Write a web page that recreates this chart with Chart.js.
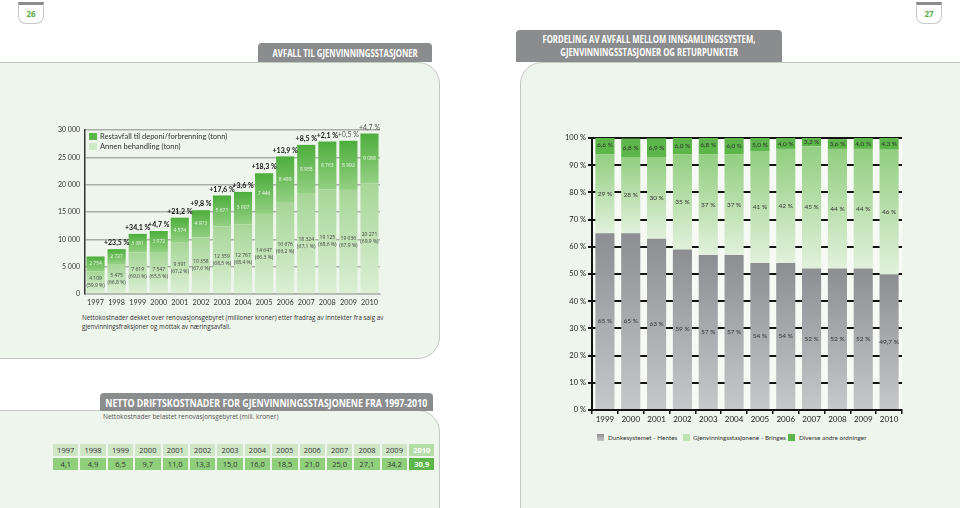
<!DOCTYPE html>
<html>
<head>
<meta charset="utf-8">
<script src="https://cdn.jsdelivr.net/npm/chart.js@4.4.1/dist/chart.umd.min.js"></script>
<style>
  body { margin: 0; width: 960px; height: 508px; background: #fff; overflow: hidden; position: relative; font-family: "Open Sans", sans-serif; }
  .abs { position: absolute; }
  .panel { position: absolute; background: #eef5ec; border: 1px solid #c4c8c2; box-sizing: border-box; }
  .tab { position: absolute; background: #8b8c8e; color: #fff; font-family: "Open Sans", sans-serif; font-weight: bold; border-radius: 4px 4px 0 0; white-space: nowrap; display: flex; flex-direction: column; align-items: center; justify-content: center; }
  .tab span { display: block; transform: scaleX(0.74); transform-origin: center; }
  .pg { position: absolute; width: 24px; height: 18px; background: #fff; border: 1px solid #c8c8c8; border-top: 3px solid #8b8c8e; border-radius: 0 0 8px 8px; color: #5aae45; font: bold 8px "Open Sans"; text-align: center; line-height: 18px; }
  .leg { position: absolute; font-family: Lato, sans-serif; font-size: 6.4px; color: #333; white-space: nowrap; line-height: 8px; }
  .leg i { position: absolute; top: 0; width: 7px; height: 7px; }
  table { position: absolute; left: 51px; top: 442px; border-collapse: separate; border-spacing: 2px; font-size: 7.5px; }
  td { width: 25.4px; height: 12px; padding: 0; text-align: center; color: #333; }
  tr.y td { background: #cfe6c6; }
  tr.v td { background: #8fcf7c; }
  tr.y td.hl { background: #b4dda8; color: #fff; font-weight: bold; }
  tr.v td.hl { background: #5cb649; color: #fff; font-weight: bold; }
</style>
</head>
<body>
<div class="pg" style="left:18px;top:2px;">26</div>
<div class="pg" style="left:916px;top:2px;">27</div>

<div class="panel" style="left:-2px;top:62px;width:442px;height:297px;border-radius:0 22px 22px 0;"></div>
<div class="tab" style="left:258px;top:43px;width:174px;height:19px;font-size:10.5px;"><span>AVFALL TIL GJENVINNINGSSTASJONER</span></div>

<div class="panel" style="left:-2px;top:410px;width:442px;height:110px;border-radius:0 22px 0 0;"></div>
<div class="tab" style="left:100px;top:393px;width:333px;height:18px;font-size:11px;"><span style="transform:scaleX(0.8)">NETTO DRIFTSKOSTNADER FOR GJENVINNINGSSTASJONENE FRA 1997-2010</span></div>
<div class="abs" style="left:103px;top:412px;font-size:6.5px;color:#555;">Nettokostnader belastet renovasjonsgebyret (mill. kroner)</div>
<table id="costTable"></table>

<div class="panel" style="left:520px;top:62px;width:442px;height:460px;border-radius:22px 0 0 0;"></div>
<div class="tab" style="left:516px;top:30px;width:266px;height:32px;font-size:10.5px;line-height:13px;"><span>FORDELING AV AVFALL MELLOM INNSAMLINGSSYSTEM,</span><span>GJENVINNINGSSTASJONER OG RETURPUNKTER</span></div>

<div class="abs" style="left:0;top:110px;width:440px;height:200px;"><canvas id="leftChart"></canvas></div>
<div class="leg" style="left:89px;top:133px;font-size:7.5px;padding-left:11px;"><i style="left:0;width:8px;background:#5cb649"></i>Restavfall til deponi/forbrenning (tonn)</div>
<div class="leg" style="left:89px;top:143px;font-size:7.5px;padding-left:11px;"><i style="left:0;width:8px;background:#cfe8c5"></i>Annen behandling (tonn)</div>
<div class="abs" style="left:82px;top:313px;font-size:6.3px;line-height:9px;color:#333;">Nettokostnader dekket over renovasjonsgebyret (millioner kroner) etter fradrag av inntekter fra salg av<br>gjenvinningsfraksjoner og mottak av næringsavfall.</div>

<div class="abs" style="left:540px;top:120px;width:420px;height:310px;"><canvas id="rightChart"></canvas></div>
<div class="leg" style="left:597px;top:434px;padding-left:11px;"><i style="left:0;background:linear-gradient(#8e8f92,#c5c6c8)"></i>Dunkesystemet - Hentes</div>
<div class="leg" style="left:683px;top:434px;padding-left:10px;"><i style="left:0;background:#bfe3b2"></i>Gjenvinningsstasjonene - Bringes</div>
<div class="leg" style="left:788px;top:434px;padding-left:11px;"><i style="left:0;background:#5cb649"></i>Diverse andre ordninger</div>

<script>
// Avfall til gjenvinningsstasjoner (tonn)
const leftYears = ['1997','1998','1999','2000','2001','2002','2003','2004','2005','2006','2007','2008','2009','2010'];
const annenBehandling = [4109, 5475, 7619, 7547, 9391, 10358, 12359, 12767, 14647, 16676, 18324, 19125, 19036, 20271];
const annenPct = ['59,9', '66,8', '69,0', '65,5', '67,2', '67,6', '68,5', '68,4', '66,3', '66,2', '67,1', '68,6', '67,9', '69,9'];
const restavfall = [2754, 2727, 3381, 3972, 4574, 4973, 5671, 5907, 7446, 8499, 8955, 8763, 8992, 9088];
const growth = ['', '+23,5 %', '+34,1 %', '+4,7 %', '+21,2 %', '+9,8 %', '+17,6 %', '+3,6 %', '+18,3 %', '+13,9 %', '+8,5 %', '+2,1 %', '+0,5 %', '+4,7 %'];

// Netto driftskostnader (mill. kroner)
const costYears = leftYears;
const costs = ['4,1', '4,9', '6,5', '9,7', '11,0', '13,3', '15,0', '16,0', '18,5', '21,0', '25,0', '27,1', '34,2', '30,9'];

// Fordeling mellom innsamlingssystem (%)
const rightYears = ['1999','2000','2001','2002','2003','2004','2005','2006','2007','2008','2009','2010'];
const dunk = [65, 65, 63, 59, 57, 57, 54, 54, 52, 52, 52, 49.7];
const stasjon = [29, 28, 30, 35, 37, 37, 41, 42, 45, 44, 44, 46];
const diverse = [6.6, 6.8, 6.9, 6.0, 6.8, 6.0, 5.0, 4.0, 3.2, 3.6, 4.0, 4.3];

// table
const tbl = document.getElementById('costTable');
tbl.innerHTML =
  '<tr class="y">' + costYears.map((y, i) => `<td${i === costYears.length - 1 ? ' class="hl"' : ''}>${y}</td>`).join('') + '</tr>' +
  '<tr class="v">' + costs.map((v, i) => `<td${i === costs.length - 1 ? ' class="hl"' : ''}>${v}</td>`).join('') + '</tr>';

const fmt = n => String(n).replace(/\B(?=(\d{3})+(?!\d))/g, ' ');
const pct = (v, dec) => (dec ? v.toFixed(1) : String(v)).replace('.', ',') + ' %';

// gradient for each stacked segment, darker at the top
function segGrad(topColor, botColor) {
  return (c) => {
    const ch = c.chart;
    const ys = ch.scales.y;
    if (!ys || c.type !== 'data') return botColor;
    const i = c.dataIndex, d = c.datasetIndex;
    let base = 0;
    for (let k = 0; k < d; k++) base += ch.data.datasets[k].data[i];
    const top = Math.min(base + ch.data.datasets[d].data[i], ys.max);
    const y1 = ys.getPixelForValue(top), y0 = ys.getPixelForValue(base);
    if (!isFinite(y1) || !isFinite(y0) || y0 === y1) return botColor;
    const g = ch.ctx.createLinearGradient(0, y1, 0, y0);
    g.addColorStop(0, topColor);
    g.addColorStop(1, botColor);
    return g;
  };
}

const leftLabels = {
  id: 'leftLabels',
  afterDatasetsDraw(chart) {
    const ctx = chart.ctx;
    const low = chart.getDatasetMeta(0).data;
    const high = chart.getDatasetMeta(1).data;
    ctx.save();
    ctx.textAlign = 'center';
    ctx.textBaseline = 'middle';
    low.forEach((bar, i) => {
      const mid = (bar.y + bar.base) / 2;
      ctx.fillStyle = '#444';
      ctx.font = '5px "Open Sans"';
      ctx.fillText(fmt(annenBehandling[i]), bar.x, mid - 3.5);
      ctx.fillText('(' + annenPct[i] + ' %)', bar.x, mid + 3.5);
    });
    high.forEach((bar, i) => {
      const mid = (bar.y + bar.base) / 2;
      ctx.fillStyle = '#eef7ea';
      ctx.font = '5px "Open Sans"';
      ctx.fillText(fmt(restavfall[i]), bar.x, mid);
      if (growth[i]) {
        const light = i >= 12;
        ctx.fillStyle = light ? '#555' : '#111';
        ctx.font = (light ? '' : 'bold ') + '7px Lato';
        ctx.fillText(growth[i], bar.x, bar.y - 6);
      }
    });
    ctx.restore();
  }
};

new Chart(document.getElementById('leftChart'), {
  type: 'bar',
  data: {
    labels: leftYears,
    datasets: [
      { label: 'Annen behandling (tonn)', data: annenBehandling, backgroundColor: segGrad('#a6d697', '#dcefd5') },
      { label: 'Restavfall til deponi/forbrenning (tonn)', data: restavfall, backgroundColor: segGrad('#4dae3c', '#94d083') }
    ]
  },
  options: {
    responsive: true,
    maintainAspectRatio: false,
    animation: false,
    layout: { padding: { top: 20, right: 60, left: 0, bottom: 0 } },
    datasets: { bar: { categoryPercentage: 1, barPercentage: 0.86 } },
    plugins: { legend: { display: false }, tooltip: { enabled: false } },
    scales: {
      x: {
        stacked: true,
        grid: { display: false, drawTicks: false },
        border: { color: '#b8bdb6', width: 1 },
        ticks: { color: '#333', font: { size: 7.3, family: 'Lato' }, padding: 4, maxRotation: 0, minRotation: 0, autoSkip: false },
        afterFit: s => { s.height = 16; }
      },
      y: {
        stacked: true,
        min: 0, max: 30000,
        ticks: { stepSize: 5000, color: '#333', font: { size: 7, family: 'Lato' }, padding: 5, callback: v => fmt(v) },
        grid: { color: '#a9ada7', lineWidth: 1.5, drawTicks: false },
        border: { color: '#333', width: 1.5 },
        afterFit: s => { s.width = 85; }
      }
    }
  },
  plugins: [leftLabels]
});

const rightLabels = {
  id: 'rightLabels',
  afterDatasetsDraw(chart) {
    const ctx = chart.ctx;
    const sets = [dunk, stasjon, diverse];
    ctx.save();
    ctx.textAlign = 'center';
    ctx.textBaseline = 'middle';
    ctx.font = '6.5px Lato';
    sets.forEach((vals, d) => {
      chart.getDatasetMeta(d).data.forEach((bar, i) => {
        ctx.fillStyle = '#333';
        ctx.fillText(pct(vals[i], d === 2), bar.x, (bar.y + bar.base) / 2);
      });
    });
    ctx.restore();
  }
};

const plotBg = {
  id: 'plotBg',
  beforeDraw(chart) {
    const a = chart.chartArea;
    chart.ctx.save();
    chart.ctx.fillStyle = '#f6f9f4';
    chart.ctx.fillRect(a.left, a.top, a.right - a.left, a.bottom - a.top);
    chart.ctx.restore();
  }
};

new Chart(document.getElementById('rightChart'), {
  type: 'bar',
  data: {
    labels: rightYears,
    datasets: [
      { label: 'Dunkesystemet - Hentes', data: dunk, backgroundColor: segGrad('#8d8e91', '#c7c8ca') },
      { label: 'Gjenvinningsstasjonene - Bringes', data: stasjon, backgroundColor: segGrad('#92ce80', '#e2f1dc') },
      { label: 'Diverse andre ordninger', data: diverse, backgroundColor: '#5cb649' }
    ]
  },
  options: {
    responsive: true,
    maintainAspectRatio: false,
    animation: false,
    layout: { padding: { top: 18, right: 58, left: 0, bottom: 0 } },
    datasets: { bar: { categoryPercentage: 1, barPercentage: 0.74 } },
    plugins: { legend: { display: false }, tooltip: { enabled: false } },
    scales: {
      x: {
        stacked: true,
        grid: { offset: true, drawOnChartArea: false, color: '#111', lineWidth: 1.5, tickLength: 4 },
        border: { color: '#111', width: 2 },
        ticks: { color: '#222', font: { size: 8, family: 'Lato' }, padding: 1, maxRotation: 0, autoSkip: false },
        afterFit: s => { s.height = 20; }
      },
      y: {
        stacked: true,
        min: 0, max: 100,
        ticks: { stepSize: 10, color: '#222', font: { size: 7.5, family: 'Lato' }, padding: 2, callback: v => v + ' %' },
        grid: { color: '#111', lineWidth: 2, tickLength: 4 },
        border: { color: '#111', width: 2 },
        afterFit: s => { s.width = 52; }
      }
    }
  },
  plugins: [plotBg, rightLabels]
});
</script>
</body>
</html>
